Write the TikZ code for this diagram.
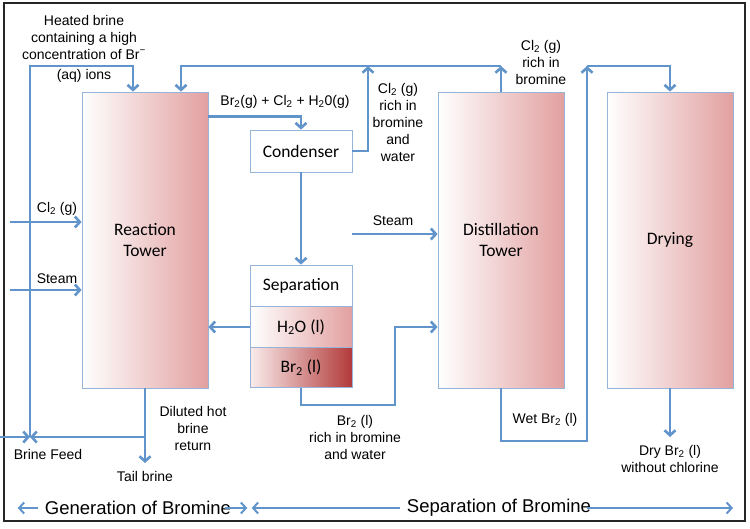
\documentclass[tikz,border=0pt]{standalone}
\usepackage{fontspec}
\setmainfont{Liberation Sans}
\newfontfamily\calf{Carlito}
\usetikzlibrary{arrows.meta}
\definecolor{ablue}{RGB}{98,148,204}
\definecolor{bblue}{RGB}{150,180,215}
\definecolor{tpink}{RGB}{226,160,160}
\definecolor{lpink}{RGB}{250,236,236}
\definecolor{dred}{RGB}{178,58,58}
\begin{document}
\begin{tikzpicture}[x=1pt,y=-1pt,
  flow/.style={draw=ablue,line width=2.6pt,-{Straight Barb[length=5pt,width=11pt]}},
  lbl/.style={font=\fontsize{14}{17}\selectfont,align=center,inner sep=0pt},
  big/.style={font=\fontsize{18.5}{22}\selectfont,inner sep=0pt},
  tower/.style={draw=bblue,line width=0.8pt,left color=white,right color=tpink,
    minimum width=126pt,minimum height=296pt,font=\calf\fontsize{17.5}{21}\selectfont,
    align=center,inner sep=0pt},
  unit/.style={draw=bblue,line width=0.8pt,minimum width=102pt,
    font=\calf\fontsize{17.5}{21}\selectfont,inner sep=0pt}
]
\useasboundingbox (0,0) rectangle (750,528);
\fill[white] (0,0) rectangle (750,528);
\draw[line width=1.3pt,black!85] (4,3) rectangle (745,521);

% equipment
\node[tower] (rt) at (145,240) {Reaction\\Tower};
\node[tower] (dt) at (501,240) {Distillation\\Tower};
\node[tower] (dr) at (670,240) {Drying};
\node[unit,fill=white,minimum height=42pt] (cond) at (301,151) {Condenser};
\node[unit,fill=white,minimum height=41pt] (sep) at (301,285.5) {Separation};
\node[unit,left color=white,right color=tpink,minimum height=42pt] (h2o) at (301,327) {H\textsubscript{2}O (l)};
\node[unit,left color=lpink,right color=dred,minimum height=40pt] (br2) at (301,367.5) {Br\textsubscript{2} (l)};

% coordinates for free ends / corners
\coordinate (bf) at (0,437);
\coordinate (j1) at (30,437);
\coordinate (tl) at (30,66);
\coordinate (jt) at (145,437);
\coordinate (tb) at (145,463);
\coordinate (tr) at (501,66);
\coordinate (cu) at (368,66);
\coordinate (bk) at (395,405);
\coordinate (st) at (352,234);
\coordinate (wb) at (587,441);
\coordinate (wt) at (587,66);
\coordinate (dp) at (670,437);
\coordinate (c0) at (10,222);
\coordinate (s0) at (10,290);

% connectors
\draw[flow] (bf) -- (j1);
\draw[flow] (rt.south) -- (tb);
\draw[flow] (jt) -- (j1);
\draw[flow] (j1) -- (tl) -| ([xshift=-12pt]rt.north);
\draw[flow] (dt.north) -- (tr);
\draw[flow] (tr) -| ([xshift=36pt]rt.north);
\draw[flow] (cond.east) -| (cu);
\draw[flow] ([yshift=-25pt]rt.north east) -| (cond.north);
\draw[flow] (cond.south) -- (sep.north);
\draw[flow] (h2o.west) -- (h2o.west -| rt.east);
\draw[flow] (br2.south) |- (bk) |- (dt.west |- h2o.east);
\draw[flow] (st) -- (st -| dt.west);
\draw[flow] (dt.south) |- (wb) -- (wt);
\draw[flow] (wt) -| (dr.north);
\draw[flow] (dr.south) -- (dp);
\draw[flow] (c0) -- (c0 -| rt.west);
\draw[flow] (s0) -- (s0 -| rt.west);

% labels
\node[lbl] (heated) at (84,37) {Heated brine\\containing a high\\concentration of Br\textsuperscript{−}};
\node[lbl] (aq) at (84,76) {(aq) ions};
\node[lbl] (mix) at (285,102) {Br\textsubscript{2}(g) + Cl\textsubscript{2} + H\textsubscript{2}0(g)};
\node[lbl] (cl1) at (398,122) {Cl\textsubscript{2} (g)\\rich in\\bromine\\and\\water};
\node[lbl] (cl2) at (541,62) {Cl\textsubscript{2} (g)\\rich in\\bromine};
\node[lbl] (stm) at (393,221) {Steam};
\node[lbl] (brl) at (355,437) {Br\textsubscript{2} (l)\\rich in bromine\\and water};
\node[lbl] (wet) at (545,420) {Wet Br\textsubscript{2} (l)};
\node[lbl] (dry) at (670,459) {Dry Br\textsubscript{2} (l)\\without chlorine};
\node[lbl] (dil) at (193,428) {Diluted hot\\brine\\return};
\node[lbl] (bfl) at (48,454) {Brine Feed};
\node[lbl] (tbl) at (145,476) {Tail brine};
\node[lbl] (cll) at (57,209) {Cl\textsubscript{2} (g)};
\node[lbl] (stl) at (57,279) {Steam};

% bottom bar
\node[big] (gen) at (138,508) {Generation of Bromine};
\node[big] (sepb) at (499,508) {Separation of Bromine};
\coordinate (be) at (733,508);
\draw[flow,line width=2pt] ([xshift=-7pt]gen.west) -- ++(-20,0);
\draw[flow,line width=2pt] ([xshift=-6pt]gen.east) -- ++(22,0);
\draw[flow,line width=2pt] ([xshift=-7pt]sepb.west) -- ++(-148,0);
\draw[flow,line width=2pt] ([xshift=-4pt]sepb.east) -- (be);
\end{tikzpicture}
\end{document}
